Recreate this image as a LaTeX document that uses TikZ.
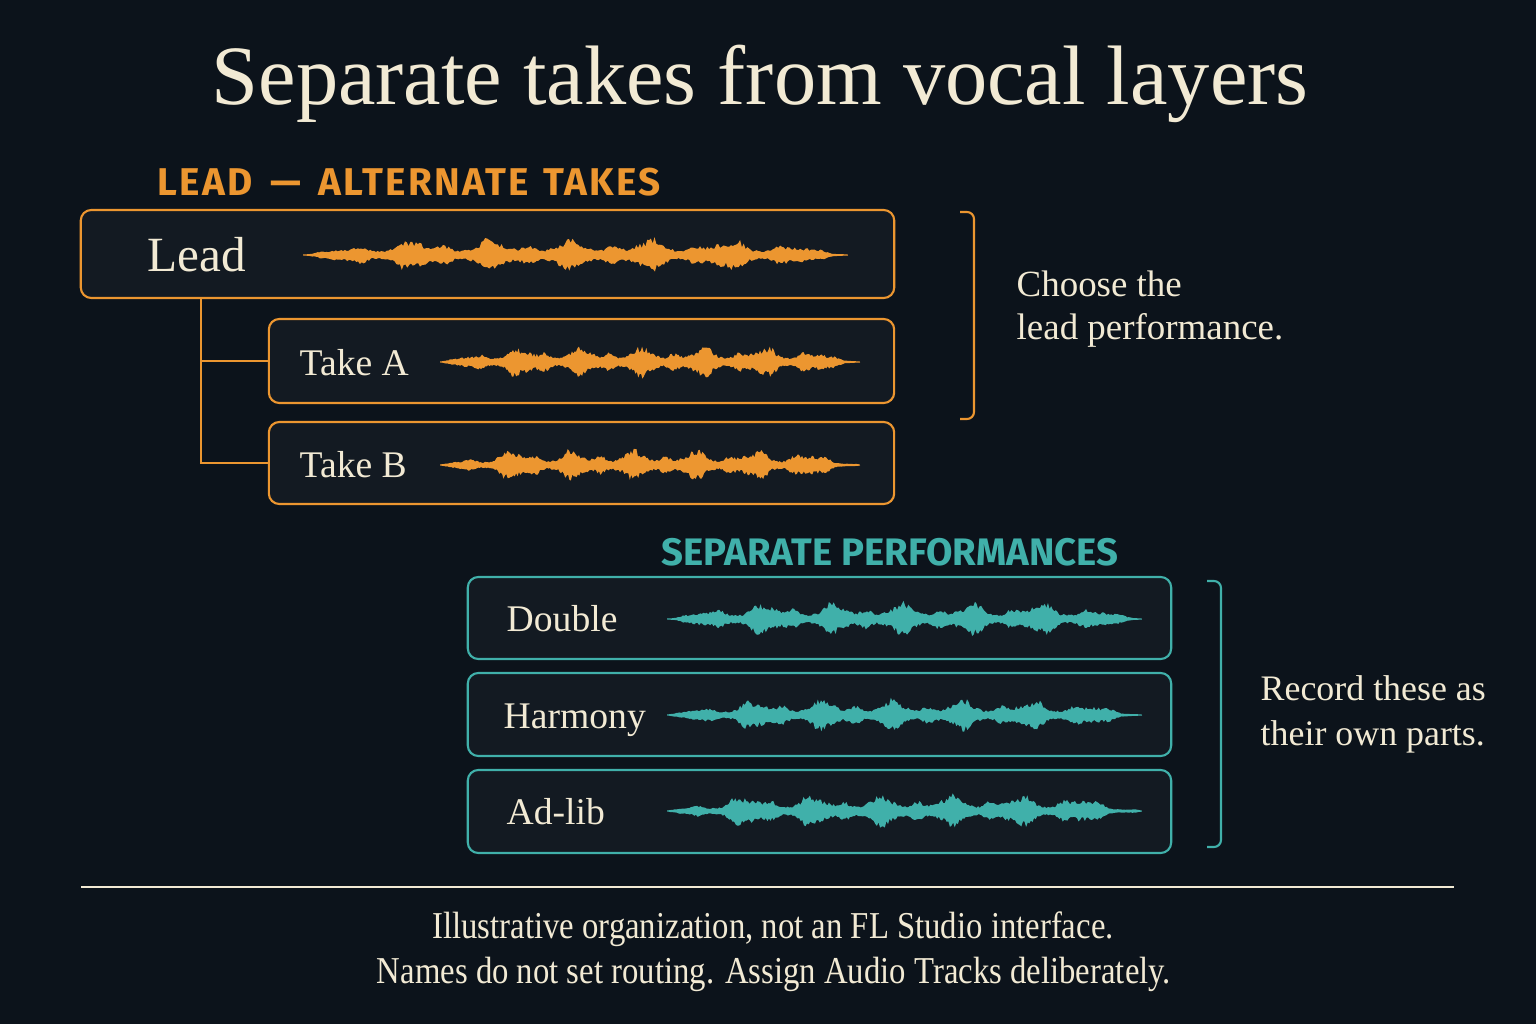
\documentclass[tikz,border=0pt]{standalone}
\usepackage{tikz}
\usepackage{xcolor}
\usepackage{graphicx}
\usepackage{fontspec}
\setmainfont{Liberation Serif}
\newfontfamily\headfont[LetterSpace=6]{Fira Sans}
\newfontfamily\headfonttight{Fira Sans}

\definecolor{bgnavy}{RGB}{12,19,27}
\definecolor{boxfill}{RGB}{19,26,34}
\definecolor{amber}{RGB}{236,150,48}
\definecolor{tealish}{RGB}{64,176,170}
\definecolor{cream}{RGB}{242,234,212}

\tikzset{
  trackbox/.style={draw=#1,fill=boxfill,line width=0.6pt,rounded corners=3pt,
    inner sep=0pt,minimum width=6.25cm,minimum height=0.84cm},
  tracklabel/.style={anchor=base west,text=cream,inner sep=0pt,
    font=\fontsize{10.7pt}{12pt}\selectfont},
  sidenote/.style={anchor=base west,text=cream,inner sep=0pt,align=left,
    font=\fontsize{10.5pt}{12.2pt}\selectfont},
  heading/.style={text=#1,inner sep=0pt},
  bracket/.style={draw=#1,line width=0.6pt,rounded corners=2pt}
}

\newcommand{\voxwave}[6]{% colour, x-start, x-end, y, amplitude, seed
  \pgfmathsetseed{#6}
  \fill[#1] (#2,#4)
    -- plot[domain=0:1,samples=300,variable=\t] ({#2+(#3-#2)*\t},{#4-#5*env(\t,#6)})
    -- plot[domain=1:0,samples=300,variable=\t] ({#2+(#3-#2)*\t},{#4+#5*env(\t,#6)})
    -- cycle;
}

\begin{document}
\begin{tikzpicture}[x=0.01cm,y=-0.01cm,
    declare function={env(\t,\p)=min(1,7*\t,7*(1-\t))*(0.22+0.45*abs(sin(1260*\t+\p))^3
      +0.33*abs(sin(2340*\t+2*\p))^5)*(0.55+0.45*rnd)+0.03;}]
  % Background
  \fill[bgnavy] (0,0) rectangle (1536,1024);
  \useasboundingbox (0,0) rectangle (1536,1024);

  % Title
  \node[text=cream,anchor=base,inner sep=0pt,font=\fontsize{24pt}{26pt}\selectfont]
    (title) at (760,104) {Separate takes from vocal layers};

  % Lead and alternate takes
  \node[heading=amber,anchor=base west,font=\headfont\bfseries\fontsize{11pt}{12pt}\selectfont]
    (leadhead) at (157,195) {LEAD\hspace{5pt}—\hspace{5pt}ALTERNATE\hspace{4pt}TAKES};
  \node[trackbox=amber,minimum width=8.13cm,minimum height=0.88cm] (lead) at (487.5,254) {};
  \node[trackbox=amber] (takeA) at (581.5,361) {};
  \node[trackbox=amber,minimum height=0.82cm] (takeB) at (581.5,463) {};
  \node[tracklabel,font=\fontsize{14pt}{15pt}\selectfont] (leadtxt) at (147,271) {Lead};
  \node[tracklabel] (takeAtxt) at (299,375) {Take A};
  \node[tracklabel] (takeBtxt) at (299,477) {Take B};
  \voxwave{amber}{303}{848}{255}{18}{11}
  \voxwave{amber}{440}{860}{362}{17}{23}
  \voxwave{amber}{440}{860}{465}{17}{47}

  % Take tree
  \coordinate (trunk) at (201,298);
  \draw[amber,line width=0.6pt] (trunk) |- (takeA.west);
  \draw[amber,line width=0.6pt] (trunk) |- (takeB.west);

  % Choose bracket
  \draw[bracket=amber] (960,212) -| (974,419) -- (960,419);
  \node[sidenote] (choose) at (1016,339) {Choose the\\lead performance.};

  % Separate performances
  \node[heading=tealish,anchor=base,font=\headfonttight\bfseries\fontsize{10.9pt}{12pt}\selectfont]
    (sephead) at (890,565) {SEPARATE PERFORMANCES};
  \node[trackbox=tealish,minimum width=7.03cm,minimum height=0.82cm] (double) at (819.5,618) {};
  \node[trackbox=tealish,minimum width=7.03cm,minimum height=0.83cm] (harmony) at (819.5,714.5) {};
  \node[trackbox=tealish,minimum width=7.03cm,minimum height=0.83cm] (adlib) at (819.5,811.5) {};
  \node[tracklabel] (doubletxt) at (506,631) {Double};
  \node[tracklabel] (harmonytxt) at (503,728) {Harmony};
  \node[tracklabel] (adlibtxt) at (506,824) {Ad-lib};
  \voxwave{tealish}{667}{1142}{619}{18}{5}
  \voxwave{tealish}{667}{1142}{715}{17}{31}
  \voxwave{tealish}{667}{1142}{811}{18}{59}

  % Record bracket
  \draw[bracket=tealish] (1207,581) -| (1221,847) -- (1207,847);
  \node[sidenote,font=\fontsize{10.2pt}{12.6pt}\selectfont] (record) at (1260,745)
    {Record these as\\their own parts.};

  % Footer
  \draw[cream,line width=0.5pt] (81,887) -- (1454,887);
  \node[text=cream,anchor=base,inner sep=0pt,font=\fontsize{10.8pt}{12pt}\selectfont]
    (note1) at (773,938) {\scalebox{0.862}[1]{Illustrative organization, not an FL Studio interface.}};
  \node[text=cream,anchor=base,inner sep=0pt,font=\fontsize{10.8pt}{12pt}\selectfont]
    (note2) at (774,983) {\scalebox{0.862}[1]{Names do not set routing. Assign Audio Tracks deliberately.}};
\end{tikzpicture}
\end{document}
